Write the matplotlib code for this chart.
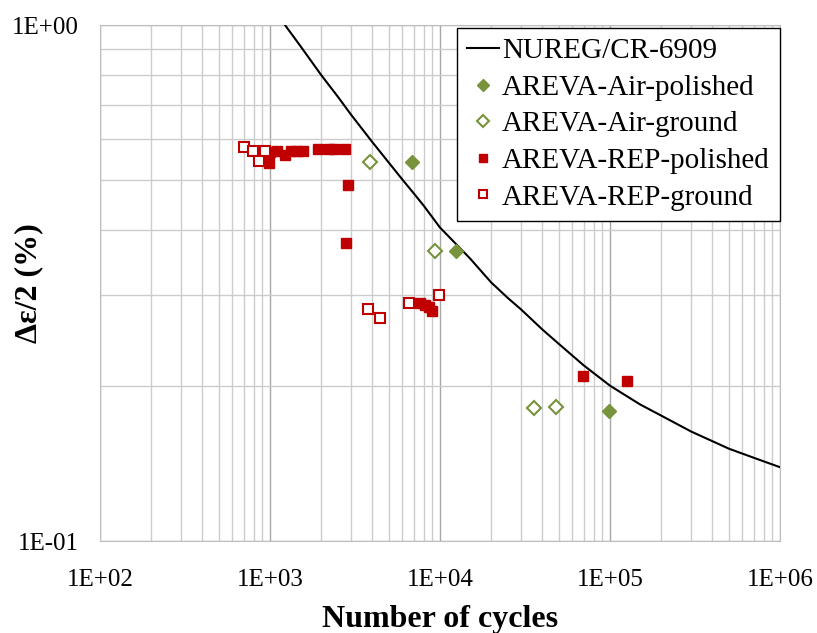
import numpy as np
import matplotlib
matplotlib.use("Agg")
from matplotlib import pyplot as plt
from matplotlib.ticker import LogLocator,NullFormatter

plt.rcParams["font.family"]=["Liberation Serif","DejaVu Serif"]

# NUREG/CR-6909 curve
nureg_n=[1225,1500,2000,2500,3000,4000,5000,6000,7000,8000,10000,15000,20000,25000,30000,
         40000,50000,70000,100000,150000,200000,300000,500000,700000,1000000]
nureg_eps=[1.0,0.913,0.80,0.727,0.67,0.593,0.541,0.502,0.472,0.447,0.405,0.353,0.317,0.296,0.281,
           0.257,0.241,0.219,0.200,0.184,0.175,0.163,0.151,0.145,0.139]

air_pol_n=[6840,12400,99000]
air_pol_eps=[0.543,0.365,0.179]

air_gr_n=[3870,9340,35900,48100]
air_gr_eps=[0.542,0.365,0.181,0.182]

rep_pol_n=[986,1000,1100,1225,1329,1442,1564,1916,2224,2379,2762,2877,2800,
           7630,8160,8610,8940,69700,125400]
rep_pol_eps=[0.540,0.567,0.570,0.560,0.570,0.570,0.570,0.575,0.576,0.576,0.576,0.490,0.378,
             0.289,0.287,0.284,0.279,0.209,0.2045]

rep_gr_n=[703,794,861,934,3770,4436,6570,9910]
rep_gr_eps=[0.579,0.570,0.546,0.571,0.281,0.271,0.289,0.2998]

xticks=[1e2,1e3,1e4,1e5,1e6]
xticklabels=["1E+02","1E+03","1E+04","1E+05","1E+06"]
yticks=[0.1,1.0]
yticklabels=["1E-01","1E+00"]

green="#77933C"
red="#C00000"

fig=plt.figure(figsize=(8.17,6.33),dpi=100)
ax=fig.add_axes([100/817,92/633,680/817,516/633])
ax.set_xscale("log")
ax.set_yscale("log")
ax.set_xlim(1e2,1e6)
ax.set_ylim(0.1,1.0)

ax.plot(nureg_n,nureg_eps,color="black",lw=1.5,label="NUREG/CR-6909",zorder=3)
ax.plot(air_pol_n,air_pol_eps,ls="none",marker="D",ms=7.5,color=green,mec=green,label="AREVA-Air-polished",zorder=4)
ax.plot(air_gr_n,air_gr_eps,ls="none",marker="D",ms=7.5,mfc="white",mec=green,mew=1.5,label="AREVA-Air-ground",zorder=4)
ax.plot(rep_pol_n,rep_pol_eps,ls="none",marker="s",ms=7.5,color=red,mec=red,label="AREVA-REP-polished",zorder=4)
ax.plot(rep_gr_n,rep_gr_eps,ls="none",marker="s",ms=7.5,mfc="white",mec=red,mew=1.5,label="AREVA-REP-ground",zorder=4)

ax.set_xticks(xticks)
ax.set_xticklabels(xticklabels)
ax.set_yticks(yticks)
ax.set_yticklabels(yticklabels)
ax.xaxis.set_minor_locator(LogLocator(base=10,subs=np.arange(2,10)))
ax.yaxis.set_minor_locator(LogLocator(base=10,subs=np.arange(2,10)))
ax.xaxis.set_minor_formatter(NullFormatter())
ax.yaxis.set_minor_formatter(NullFormatter())
ax.tick_params(which="both",length=0)
ax.tick_params(axis="x",pad=20,labelsize=18)
ax.tick_params(axis="y",pad=15,labelsize=18)
ax.grid(which="major",color="#a6a6a6",lw=1.0)
ax.grid(which="minor",color="#cccccc",lw=1.0)
ax.set_axisbelow(True)
for s in ax.spines.values():
    s.set_color("#bfbfbf")

ax.set_xlabel("Number of cycles",fontsize=23,fontweight="bold",labelpad=10)
ax.set_ylabel("Δε/2 (%)",fontsize=23,fontweight="bold")
ax.yaxis.set_label_coords(-57/680,0.5)

leg=ax.legend(loc="upper right",bbox_to_anchor=(1.0,0.995),fontsize=21,frameon=True,fancybox=False,
              edgecolor="black",framealpha=1,borderpad=0.35,labelspacing=0.35,handlelength=1.1,
              handletextpad=0.1,borderaxespad=0,markerscale=0.75)
leg.get_frame().set_linewidth(1.0)

fig.savefig("out.png",dpi=100)
